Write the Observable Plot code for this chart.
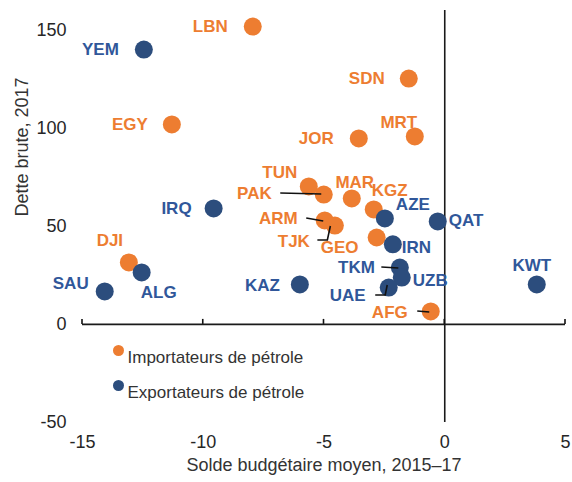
<!DOCTYPE html>
<html>
<head>
<meta charset="utf-8">
<script src="https://cdn.jsdelivr.net/npm/d3@7"></script>
<script src="https://cdn.jsdelivr.net/npm/@observablehq/plot@0.6"></script>
<style>
  html, body { margin: 0; padding: 0; background: #fff; }
  #chart { width: 572px; height: 482px; }
</style>
</head>
<body>
<div id="chart"></div>
<script>
// ---- Data ----
const importerCodes   = ["LBN","EGY","SDN","MRT","JOR","TUN","PAK","MAR","KGZ","ARM","TJK","GEO","AFG","DJI"];
const importerBalance = [-7.95,-11.3,-1.49,-1.24,-3.56,-5.63,-5.01,-3.85,-2.94,-4.97,-4.55,-2.82,-0.58,-13.08];
const importerDebt    = [151.8,101.9,125.3,95.8,94.8,70.3,66.2,64.2,58.6,53.0,50.4,44.3,6.6,31.6];

const exporterCodes   = ["YEM","IRQ","AZE","QAT","IRN","TKM","UZB","UAE","KAZ","KWT","ALG","SAU"];
const exporterBalance = [-12.46,-9.57,-2.48,-0.29,-2.15,-1.86,-1.78,-2.32,-6.0,3.81,-12.55,-14.08];
const exporterDebt    = [140.1,59.1,54.0,52.5,40.8,29.0,23.9,18.8,20.4,20.4,26.5,16.8];

const groupNames = ["Importateurs de pétrole", "Exportateurs de pétrole"];
const xTicks = [-15, -10, -5, 0, 5];
const yTicks = [-50, 0, 50, 100, 150];
const xTitle = "Solde budgétaire moyen, 2015–17";
const yTitle = "Dette brute, 2017";

// ---- Styling / label placement (pixel offsets) ----
const ORANGE = "#ED7D31";
const BLUE_DOT = "#2C4D7D";
const BLUE_TXT = "#30579A";
const FONT = "'Liberation Sans', Arial, sans-serif";

const labelPlacement = {
  LBN: [-25, 0, "end"], YEM: [-25, 0, "end"], EGY: [-24, 0, "end"], SDN: [-24, 0, "end"],
  MRT: [-16, -14, "middle"], JOR: [-25, 0, "end"], TUN: [-29, -14, "middle"],
  PAK: [-52, -1, "end"], MAR: [3, -16, "middle"], KGZ: [16, -19, "middle"],
  AZE: [11, -14, "start"], QAT: [11, -1, "start"], IRQ: [-22, 0, "end"],
  ARM: [-27, -2, "end"], TJK: [-25, 16, "end"], GEO: [-37, 10, "middle"],
  IRN: [9, 3, "start"], TKM: [-25, 0, "end"], UZB: [11, 3, "start"],
  UAE: [-23, 8, "end"], KAZ: [-20, 1, "end"], AFG: [-23, 1, "end"],
  KWT: [-5, -19, "middle"], DJI: [-19, -22, "middle"], SAU: [-34, -8, "middle"],
  ALG: [17, 20, "middle"]
};
const leaders = {
  PAK: [[-43, -1], [-2, 0]],
  ARM: [[-18, -2], [-1, 1]],
  TJK: [[-17, 15], [-7, 15], [-4, 1]],
  TKM: [[-18, 0], [-1, 1]],
  UAE: [[-13, 8], [-3, 8], [-1, -2]],
  AFG: [[-13, 0], [-1, 1]]
};

const importers = importerCodes.map((c, i) => ({code: c, x: importerBalance[i], y: importerDebt[i], group: groupNames[0]}));
const exporters = exporterCodes.map((c, i) => ({code: c, x: exporterBalance[i], y: exporterDebt[i], group: groupNames[1]}));
const all = importers.concat(exporters);

const labelMarks = all.map(d => {
  const [dx, dy, anchor] = labelPlacement[d.code];
  return Plot.text([d], {
    x: "x", y: "y", text: "code", dx, dy, textAnchor: anchor,
    fill: d.group === groupNames[0] ? ORANGE : BLUE_TXT,
    fontWeight: "bold", fontSize: 17, fontFamily: FONT
  });
});

const legendMarks = groupNames.flatMap((g, i) => [
  Plot.dot([g], {frameAnchor: "top-left", dx: 36, dy: 340 + i * 35, r: 5.5, fill: i === 0 ? ORANGE : BLUE_DOT}),
  Plot.text([g], {frameAnchor: "top-left", dx: 45, dy: 340 + i * 35, text: d => d, textAnchor: "start",
    fill: "#333", fontSize: 17, fontFamily: FONT})
]);

const chart = Plot.plot({
  width: 572,
  height: 482,
  marginLeft: 82,
  marginRight: 7,
  marginTop: 10,
  marginBottom: 60,
  style: {fontFamily: FONT, fontSize: "18px", color: "#262626", background: "#fff"},
  x: {domain: [-15, 5], ticks: xTicks, tickSize: 0, tickPadding: 13, label: null, tickFormat: d => String(d)},
  y: {domain: [-50, 160], ticks: yTicks, tickSize: 0, tickPadding: 16, label: null, tickFormat: d => String(d)},
  marks: [
    Plot.ruleY([0], {stroke: "#1a1a1a", strokeWidth: 1.6}),
    Plot.ruleX([0], {stroke: "#1a1a1a", strokeWidth: 1.6}),
    Plot.dot(importers, {x: "x", y: "y", r: 9, fill: ORANGE}),
    Plot.dot(exporters, {x: "x", y: "y", r: 9, fill: BLUE_DOT}),
    ...labelMarks,
    ...legendMarks,
    Plot.text([xTitle], {frameAnchor: "bottom", dy: 48, text: d => d, fill: "#333", fontSize: 18, fontFamily: FONT}),
    Plot.text([yTitle], {frameAnchor: "left", dx: -60, rotate: -90, text: d => d, fill: "#333", fontSize: 18, fontFamily: FONT})
  ]
});

// Tick marks on the zero line and leader lines, positioned via Plot's scales
const sx = chart.scale("x"), sy = chart.scale("y");
const g = d3.select(chart).append("g").attr("fill", "none").attr("stroke", "#111").attr("stroke-width", 1.6);
const y0 = sy.apply(0);
xTicks.forEach(t => {
  g.append("line").attr("x1", sx.apply(t)).attr("x2", sx.apply(t)).attr("y1", y0).attr("y2", y0 - 5);
});
all.forEach(d => {
  const L = leaders[d.code];
  if (!L) return;
  const px = sx.apply(d.x), py = sy.apply(d.y);
  g.append("path").attr("d", d3.line()(L.map(([ox, oy]) => [px + ox, py + oy])));
});

document.getElementById("chart").appendChild(chart);
</script>
</body>
</html>
